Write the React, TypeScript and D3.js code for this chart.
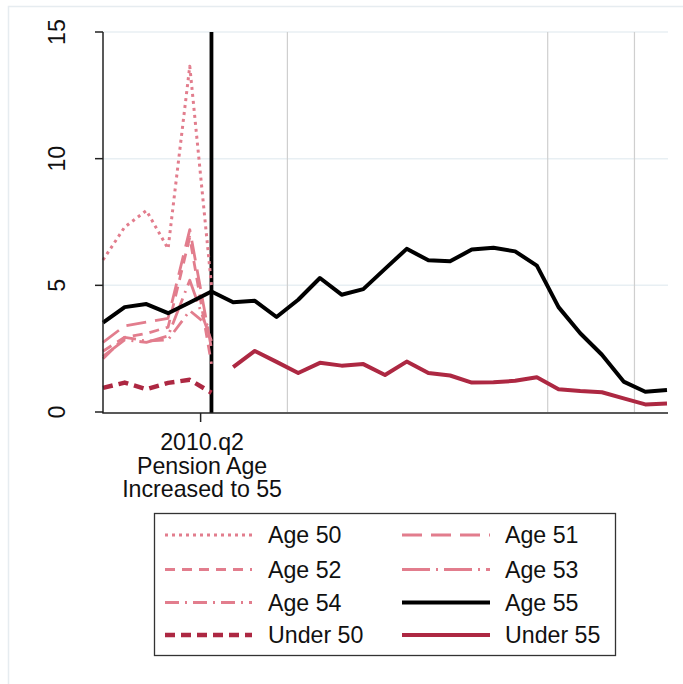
import { useEffect, useRef } from "react";
import * as d3 from "d3";

// quarter index (0 = first quarter shown)
const periods = [0, 1, 2, 3, 4, 5, 6, 7, 8, 9, 10, 11, 12, 13, 14, 15, 16, 17, 18, 19, 20, 21, 22, 23, 24, 25, 26];
const prePeriods = [0, 1, 2, 3, 4, 5];
const postPeriods = [6, 7, 8, 9, 10, 11, 12, 13, 14, 15, 16, 17, 18, 19, 20, 21, 22, 23, 24, 25, 26];

const age50 = [6.0, 7.3, 7.95, 6.45, 13.65, 5.0];
const age51 = [2.75, 3.4, 3.55, 3.7, 7.2, 2.5];
const age52 = [2.4, 2.95, 3.1, 3.35, 6.9, 1.9];
const age53 = [2.2, 2.85, 2.75, 3.0, 5.2, 2.8];
const age54 = [2.1, 2.95, 2.8, 2.85, 4.0, 3.3];
const under50 = [0.95, 1.16, 0.9, 1.15, 1.27, 0.76];
const age55 = [3.53, 4.14, 4.26, 3.9, 4.32, 4.76, 4.33, 4.39, 3.75, 4.43, 5.29, 4.63, 4.85, 5.65, 6.44, 5.99, 5.95, 6.41, 6.48, 6.34, 5.78, 4.14, 3.11, 2.26, 1.2, 0.8, 0.87];
const under55 = [1.77, 2.41, 1.98, 1.54, 1.94, 1.83, 1.89, 1.46, 1.99, 1.54, 1.44, 1.16, 1.17, 1.23, 1.37, 0.9, 0.83, 0.78, 0.54, 0.3, 0.34];

const yTicks = [0, 5, 10, 15];
const xTick = 4.5;
const xTickLabel = ["2010.q2", "Pension Age", "Increased to 55"];
const eventPeriod = 5;
const xLines = [8.5, 20.5, 24.5];

const PINK = "#e27d8d";
const DARK = "#ad2842";
const FONT = "'Liberation Sans', Arial, Helvetica, sans-serif";
const FS = 23.2;

type Series = {
  name: string;
  x: number[];
  y: number[];
  color: string;
  width: number;
  dash: string | null;
};

const series: Series[] = [
  { name: "Age 50", x: prePeriods, y: age50, color: PINK, width: 3, dash: "3,4" },
  { name: "Age 51", x: prePeriods, y: age51, color: PINK, width: 2.8, dash: "20,9" },
  { name: "Age 52", x: prePeriods, y: age52, color: PINK, width: 2.8, dash: "10,7" },
  { name: "Age 53", x: prePeriods, y: age53, color: PINK, width: 2.8, dash: "28,6,2,6" },
  { name: "Age 54", x: prePeriods, y: age54, color: PINK, width: 2.8, dash: "14,6,2,6" },
  { name: "Age 55", x: periods, y: age55, color: "#000", width: 4, dash: null },
  { name: "Under 50", x: prePeriods, y: under50, color: DARK, width: 4.5, dash: "10,6" },
  { name: "Under 55", x: postPeriods, y: under55, color: DARK, width: 4, dash: null },
];

const App = () => {
  const ref = useRef<SVGSVGElement | null>(null);

  useEffect(() => {
    const width = 683;
    const height = 684;
    const svg = d3.select(ref.current);
    svg.selectAll("*").remove();

    const x = d3.scaleLinear().domain([0, 26]).range([103, 667]);
    const y = d3.scaleLinear().domain([0, 15]).range([412, 32]);

    // outer frame
    svg
      .append("rect")
      .attr("x", 8.5)
      .attr("y", 6.5)
      .attr("width", width)
      .attr("height", height)
      .attr("fill", "#fff")
      .attr("stroke", "#e6ecf0")
      .attr("stroke-width", 1.5);

    // horizontal grid
    svg
      .append("g")
      .selectAll("line")
      .data(yTicks.filter((d) => d > 0))
      .join("line")
      .attr("x1", x(0))
      .attr("x2", x(26) + 1)
      .attr("y1", (d) => y(d))
      .attr("y2", (d) => y(d))
      .attr("stroke", "#e8eff3")
      .attr("stroke-width", 1.5);

    // vertical reference lines
    svg
      .append("g")
      .selectAll("line")
      .data(xLines)
      .join("line")
      .attr("x1", (d) => x(d))
      .attr("x2", (d) => x(d))
      .attr("y1", y(15))
      .attr("y2", y(0))
      .attr("stroke", "#cfcfcf")
      .attr("stroke-width", 1.2);

    svg
      .append("line")
      .attr("x1", x(eventPeriod))
      .attr("x2", x(eventPeriod))
      .attr("y1", y(15))
      .attr("y2", y(0) + 1)
      .attr("stroke", "#000")
      .attr("stroke-width", 3.8);

    // series
    series.forEach((s) => {
      const line = d3
        .line<number>()
        .x((_, i) => x(s.x[i]))
        .y((d) => y(d));
      svg
        .append("path")
        .datum(s.y)
        .attr("fill", "none")
        .attr("stroke", s.color)
        .attr("stroke-width", s.width)
        .attr("stroke-dasharray", s.dash)
        .attr("stroke-linejoin", "round")
        .attr("d", line);
    });

    // y axis
    const yAxis = svg.append("g");
    yAxis
      .append("line")
      .attr("x1", x(0))
      .attr("x2", x(0))
      .attr("y1", y(15))
      .attr("y2", y(0) + 1)
      .attr("stroke", "#222")
      .attr("stroke-width", 1.5);
    yAxis
      .selectAll("line.tick")
      .data(yTicks)
      .join("line")
      .attr("class", "tick")
      .attr("x1", x(0) - 8)
      .attr("x2", x(0))
      .attr("y1", (d) => y(d))
      .attr("y2", (d) => y(d))
      .attr("stroke", "#222")
      .attr("stroke-width", 1.5);
    yAxis
      .selectAll("text")
      .data(yTicks)
      .join("text")
      .attr("transform", (d) => `translate(65,${y(d)}) rotate(-90)`)
      .attr("text-anchor", "middle")
      .attr("font-family", FONT)
      .attr("font-size", FS)
      .attr("fill", "#111")
      .text((d) => d);

    // x axis
    const xAxis = svg.append("g");
    xAxis
      .append("line")
      .attr("x1", x(0) - 0.75)
      .attr("x2", x(26) + 1)
      .attr("y1", y(0) + 1)
      .attr("y2", y(0) + 1)
      .attr("stroke", "#222")
      .attr("stroke-width", 1.5);
    xAxis
      .append("line")
      .attr("x1", x(xTick))
      .attr("x2", x(xTick))
      .attr("y1", y(0) + 1)
      .attr("y2", y(0) + 10)
      .attr("stroke", "#222")
      .attr("stroke-width", 1.5);
    xAxis
      .selectAll("text")
      .data(xTickLabel)
      .join("text")
      .attr("x", x(xTick) + 1.5)
      .attr("y", (_, i) => 450 + i * 23.5)
      .attr("text-anchor", "middle")
      .attr("font-family", FONT)
      .attr("font-size", FS)
      .attr("fill", "#111")
      .text((d) => d);

    // legend
    const legend = svg.append("g");
    legend
      .append("rect")
      .attr("x", 154.5)
      .attr("y", 513.5)
      .attr("width", 461)
      .attr("height", 142)
      .attr("fill", "#fff")
      .attr("stroke", "#333")
      .attr("stroke-width", 1.3);
    const rowY = [535, 569.5, 602.5, 635];
    const colX = [
      { x1: 165, x2: 252, tx: 268 },
      { x1: 402, x2: 490, tx: 505 },
    ];
    series.forEach((s, i) => {
      const c = colX[i % 2];
      const ry = rowY[Math.floor(i / 2)];
      legend
        .append("line")
        .attr("x1", c.x1)
        .attr("x2", c.x2)
        .attr("y1", ry)
        .attr("y2", ry)
        .attr("stroke", s.color)
        .attr("stroke-width", s.width)
        .attr("stroke-dasharray", s.dash);
      legend
        .append("text")
        .attr("x", c.tx)
        .attr("y", ry + 8)
        .attr("font-family", FONT)
        .attr("font-size", FS)
        .attr("fill", "#111")
        .text(s.name);
    });
  }, []);

  return (
    <svg
      ref={ref}
      width={683}
      height={684}
      style={{ position: "absolute", left: 0, top: 0, background: "#fff" }}
    ></svg>
  );
};

export default App;
